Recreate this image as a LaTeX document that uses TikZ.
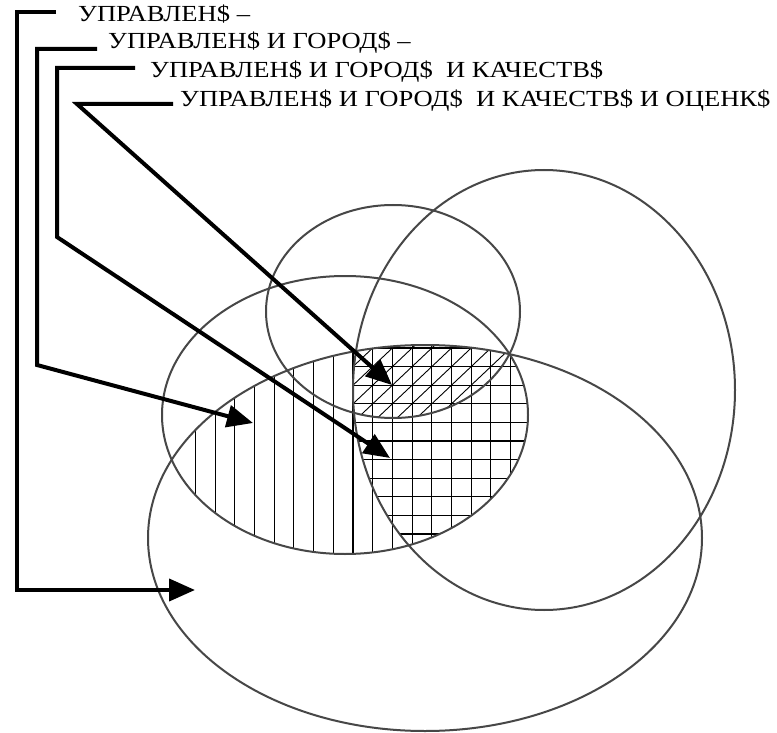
\documentclass[tikz,border=0pt]{standalone}
\usepackage{fontspec}
\setmainfont{Liberation Serif}
\usetikzlibrary{arrows.meta}
\begin{document}
\begin{tikzpicture}[x=1pt,y=-1pt,
  leader/.style={line width=4pt, black, line join=miter},
  tipped/.style={-{Triangle[length=26pt,width=22pt]}},
  oval/.style={line width=2pt, draw=black!72},
  hatch/.style={line width=1.1pt, black},
  lbl/.style={anchor=base west, inner sep=0pt, font=\fontsize{23}{23}\selectfont}]
\fill[white] (0,0) rectangle (777,733);
\useasboundingbox (0,0) rectangle (777,733);

% vertical hatching: middle ellipse and bottom ellipse
\begin{scope}
  \clip (345,415) ellipse [x radius=183pt, y radius=139pt];
  \clip (425,538) ellipse [x radius=277pt, y radius=193pt];
  \foreach \i in {-8,...,9} \draw[hatch] (353+19.7*\i, 300) -- (353+19.7*\i, 600);
\end{scope}
% horizontal hatching: also inside the tall right ellipse
\begin{scope}
  \clip (345,415) ellipse [x radius=183pt, y radius=139pt];
  \clip (425,538) ellipse [x radius=277pt, y radius=193pt];
  \clip (544,390) ellipse [x radius=191pt, y radius=220pt];
  \foreach \j in {0,...,11} \draw[hatch] (340, 348+18.6*\j) -- (560, 348+18.6*\j);
\end{scope}
% diagonal hatching: also inside the small top ellipse
\begin{scope}
  \clip (345,415) ellipse [x radius=183pt, y radius=139pt];
  \clip (425,538) ellipse [x radius=277pt, y radius=193pt];
  \clip (544,390) ellipse [x radius=191pt, y radius=220pt];
  \clip (393,311.5) ellipse [x radius=127pt, y radius=106.5pt];
  \foreach \k in {-14,...,2} \draw[hatch, line width=0.9pt] (353+19.7*\k, 571.2) -- ++(295.5, -279);
\end{scope}

% ellipses
\draw[oval] (393,311.5) ellipse [x radius=127pt, y radius=106.5pt];
\draw[oval] (544,390) ellipse [x radius=191pt, y radius=220pt];
\draw[oval] (345,415) ellipse [x radius=183pt, y radius=139pt];
\draw[oval] (425,538) ellipse [x radius=277pt, y radius=193pt];

% labels
\node[lbl] (t1) at (78,22) {\scalebox{1.155}[1]{УПРАВЛЕН\$ –}};
\node[lbl] (t2) at (108,49) {\scalebox{1.155}[1]{УПРАВЛЕН\$ И ГОРОД\$ –}};
\node[lbl] (t3) at (150,78) {\scalebox{1.155}[1]{УПРАВЛЕН\$ И ГОРОД\$\ \ И КАЧЕСТВ\$}};
\node[lbl] (t4) at (180,107) {\scalebox{1.155}[1]{УПРАВЛЕН\$ И ГОРОД\$\ \ И КАЧЕСТВ\$ И ОЦЕНК\$}};

% leader lines
\coordinate (a1) at (56,12);  \coordinate (b1) at (17,12);  \coordinate (c1) at (17,590); \coordinate (p1) at (195,590);
\coordinate (a2) at (97,49);  \coordinate (b2) at (37,49);  \coordinate (c2) at (37,365); \coordinate (p2) at (253,423);
\coordinate (a3) at (135,68); \coordinate (b3) at (57,68);  \coordinate (c3) at (57,237); \coordinate (p3) at (390,458);
\coordinate (a4) at (173,104); \coordinate (b4) at (77,104); \coordinate (p4) at (392,385);

\draw[leader,tipped] (a1) -- (b1) -- (c1) -- (p1);
\draw[leader,tipped] (a2) -- (b2) -- (c2) -- (p2);
\draw[leader,tipped] (a3) -- (b3) -- (c3) -- (p3);
\draw[leader,tipped] (a4) -- (b4) -- (p4);
\end{tikzpicture}
\end{document}
